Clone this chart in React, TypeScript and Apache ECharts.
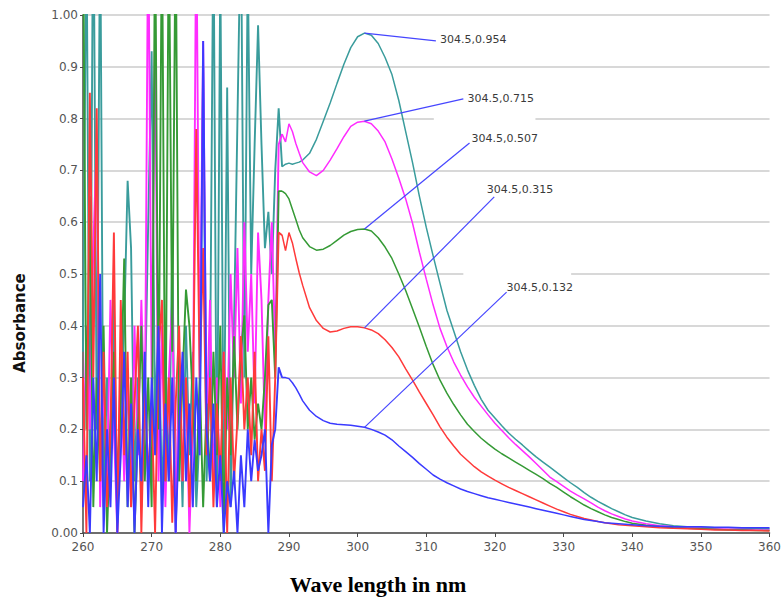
import React, { useEffect, useRef } from "react";
import * as echarts from "echarts";

// Noisy region: 260 .. 288.5 nm, 0.5 nm step
const noiseWavelengths: number[] = [];
for (let w = 260; w <= 288.5; w += 0.5) noiseWavelengths.push(w);

const tealNoise = [
  0.35, 1.2, 0.1, 1.3, 0.2, 1.2, 0.05, 0.3, 0.1, 0.45,
  0.02, 0.25, 0.4, 0.68, 0.55, 0.1, 0.3, 0.05, 0.25, 0.6,
  0.93, 0.2, 0.45, 0.05, 0.35, 0.1, 0.55, 0.0, 0.3, 0.05,
  0.4, 0.15, 0.35, 0.05, 0.2, 0.9, 0.1, 0.3, 1.2, 0.05,
  1.1, 0.1, 0.86, 0.05, 0.4, 0.8, 1.2, 0.3, 1.1, 0.5,
  0.75, 0.98, 0.75, 0.55, 0.62, 0.5, 0.7, 0.82,
];
const magentaNoise = [
  0.1, 0.4, 0.2, 0.55, 0.76, 0.05, 0.3, 0.1, 0.45, 0.2,
  0.0, 0.35, 0.1, 0.3, 0.05, 0.4, 0.15, 0.45, 0.2, 1.2,
  0.3, 0.98, 0.1, 0.4, 0.05, 0.3, 0.45, 0.0, 0.35, 0.1,
  0.3, 0.0, 0.2, 1.2, 0.3, 0.95, 0.2, 0.45, 0.1, 0.3,
  0.05, 0.35, 0.2, 0.5, 0.3, 0.55, 0.25, 0.6, 0.35, 0.5,
  0.25, 0.58, 0.45, 0.2, 0.45, 0.6, 0.35, 0.75,
];
const greenNoise = [
  1.2, 0.2, 0.65, 0.05, 0.3, 0.1, 0.4, 0.0, 0.2, 0.35,
  0.1, 0.25, 0.53, 0.05, 0.3, 0.0, 0.2, 0.4, 0.1, 0.3,
  0.05, 1.2, 0.2, 1.2, 0.1, 1.2, 0.35, 1.2, 0.1, 0.3,
  0.47, 0.4, 0.25, 0.1, 0.3, 0.05, 0.25, 0.1, 0.35, 0.15,
  0.4, 0.0, 0.3, 0.15, 0.38, 0.2, 0.35, 0.42, 0.2, 0.3,
  0.18, 0.25, 0.2, 0.3, 0.44, 0.45, 0.3, 0.66,
];
const redNoise = [
  0.3, 0.0, 0.85, 0.3, 0.82, 0.1, 0.35, 0.05, 0.2, 0.58,
  0.0, 0.45, 0.15, 0.35, 0.05, 0.25, 0.4, 0.0, 0.3, 0.1,
  0.25, 0.0, 0.35, 0.45, 0.1, 0.3, 0.02, 0.25, 0.4, 0.1,
  0.3, 0.05, 0.25, 0.78, 0.3, 0.55, 0.15, 0.3, 0.05, 0.25,
  0.1, 0.35, 0.0, 0.3, 0.1, 0.22, 0.38, 0.2, 0.3, 0.15,
  0.35, 0.1, 0.2, 0.12, 0.38, 0.1, 0.3, 0.58,
];
const blueNoise = [
  0.05, 0.15, 0.0, 0.3, 0.1, 0.5, 0.0, 0.2, 0.05, 0.3,
  0.0, 0.15, 0.35, 0.05, 0.25, 0.0, 0.2, 0.1, 0.35, 0.05,
  0.3, 0.15, 0.4, 0.0, 0.25, 0.1, 0.3, 0.0, 0.2, 0.35,
  0.1, 0.25, 0.05, 0.3, 0.15, 0.95, 0.2, 0.1, 0.25, 0.05,
  0.15, 0.0, 0.1, 0.05, 0.12, 0.0, 0.15, 0.05, 0.2, 0.1,
  0.18, 0.12, 0.15, 0.2, 0.0, 0.17, 0.2, 0.32,
];

// Smooth region wavelengths
const smoothWavelengths = [
  289, 289.5, 290, 290.5, 291, 291.5,
  292, 293, 294, 295, 296, 297, 298, 299, 300, 301, 302, 303, 304, 305,
  306, 307, 308, 309, 310, 311, 312, 313, 314, 315, 316, 317, 318, 319,
  320, 321, 322, 323, 324, 325, 326, 327, 328, 329, 330, 331, 332, 333,
  334, 335, 336, 337, 338, 339, 340,
  342, 344, 346, 348, 350, 352, 354, 356, 358, 360,
];

const tealSmooth = [
  0.707, 0.712, 0.714, 0.712, 0.714, 0.716,
  0.72, 0.733, 0.76, 0.795, 0.83, 0.868, 0.905, 0.937, 0.958, 0.965, 0.961, 0.945, 0.918, 0.885,
  0.835, 0.775, 0.715, 0.65, 0.59, 0.535, 0.482, 0.43, 0.39, 0.35, 0.315, 0.285, 0.258, 0.237,
  0.222, 0.207, 0.193, 0.181, 0.17, 0.158, 0.147, 0.137, 0.127, 0.117, 0.107, 0.097, 0.088, 0.078,
  0.069, 0.061, 0.054, 0.047, 0.041, 0.035, 0.03,
  0.023, 0.018, 0.014, 0.012, 0.011, 0.01, 0.01, 0.009, 0.009, 0.008,
];
const magentaSmooth = [
  0.77, 0.755, 0.79, 0.775, 0.752, 0.733,
  0.715, 0.697, 0.69, 0.7, 0.72, 0.742, 0.765, 0.785, 0.793, 0.795, 0.79, 0.776, 0.755, 0.722,
  0.685, 0.645, 0.598, 0.542, 0.49, 0.44, 0.395, 0.36, 0.33, 0.305, 0.282, 0.262, 0.245, 0.228,
  0.212, 0.198, 0.184, 0.171, 0.159, 0.147, 0.134, 0.121, 0.108, 0.099, 0.09, 0.081, 0.073, 0.066,
  0.058, 0.05, 0.043, 0.037, 0.032, 0.027, 0.023,
  0.018, 0.014, 0.012, 0.01, 0.009, 0.008, 0.007, 0.007, 0.006, 0.006,
];
const greenSmooth = [
  0.66, 0.655, 0.645, 0.625, 0.605, 0.585,
  0.57, 0.553, 0.546, 0.548, 0.555, 0.565, 0.575, 0.582, 0.586, 0.587, 0.583, 0.57, 0.552, 0.53,
  0.5, 0.468, 0.433, 0.397, 0.36, 0.325, 0.295, 0.27, 0.248, 0.228, 0.21, 0.196, 0.183, 0.172,
  0.162, 0.153, 0.145, 0.137, 0.129, 0.121, 0.113, 0.105, 0.096, 0.088, 0.079, 0.07, 0.062, 0.054,
  0.047, 0.041, 0.035, 0.03, 0.026, 0.022, 0.019,
  0.015, 0.012, 0.01, 0.009, 0.008, 0.007, 0.006, 0.006, 0.005, 0.005,
];
const redSmooth = [
  0.575, 0.545, 0.58, 0.56, 0.53, 0.502,
  0.478, 0.435, 0.41, 0.395, 0.388, 0.39, 0.395, 0.398, 0.398, 0.396, 0.392, 0.385, 0.373, 0.358,
  0.34, 0.317, 0.295, 0.272, 0.25, 0.228, 0.205, 0.185, 0.168, 0.152, 0.14, 0.128, 0.118, 0.11,
  0.102, 0.095, 0.088, 0.082, 0.076, 0.07, 0.064, 0.058, 0.052, 0.046, 0.041, 0.036, 0.032, 0.028,
  0.025, 0.022, 0.02, 0.018, 0.016, 0.015, 0.014,
  0.012, 0.01, 0.009, 0.008, 0.007, 0.006, 0.006, 0.005, 0.005, 0.004,
];
const blueSmooth = [
  0.3, 0.3, 0.298, 0.29, 0.28, 0.268,
  0.255, 0.237, 0.225, 0.217, 0.212, 0.21, 0.209, 0.208, 0.206, 0.204, 0.2, 0.195, 0.189, 0.18,
  0.168, 0.157, 0.146, 0.134, 0.123, 0.112, 0.104, 0.097, 0.091, 0.085, 0.08, 0.076, 0.072, 0.068,
  0.065, 0.062, 0.059, 0.056, 0.053, 0.05, 0.047, 0.044, 0.041, 0.038, 0.035, 0.032, 0.029, 0.026,
  0.024, 0.022, 0.02, 0.019, 0.018, 0.017, 0.016,
  0.014, 0.013, 0.012, 0.012, 0.012, 0.011, 0.011, 0.01, 0.01, 0.01,
];

const yTickLabels = ["0.00", "0.1", "0.2", "0.3", "0.4", "0.5", "0.6", "0.7", "0.8", "0.9", "1.00"];

const seriesNames = ["S1", "S2", "S3", "S4", "S5"];
const seriesColors = ["#3a9c9c", "#ff2cff", "#359a35", "#ff3a3a", "#3a3aff"];
const noiseSets = [tealNoise, magentaNoise, greenNoise, redNoise, blueNoise];
const smoothSets = [tealSmooth, magentaSmooth, greenSmooth, redSmooth, blueSmooth];

// Annotations
const peakWavelength = 301;
const peakLabels = ["304.5,0.954", "304.5,0.715", "304.5,0.507", "304.5,0.315", "304.5,0.132"];
const leaderEnds: [number, number][] = [
  [311.4, 0.95], [315.4, 0.838], [316.3, 0.753], [319.9, 0.649], [321.7, 0.465],
];
const labelAnchors: [number, number][] = [
  [312.0, 0.952], [316.0, 0.838], [316.6, 0.761], [318.8, 0.664], [321.7, 0.473],
];
const labelBoxes: [number, number, number, number][] = [
  [311.1, 0.795, 325.9, 0.805],
  [315.4, 0.495, 331.1, 0.505],
];

export default function App() {
  const ref = useRef<HTMLDivElement>(null);
  useEffect(() => {
    if (!ref.current) return;
    const chart = echarts.init(ref.current, undefined, { renderer: "svg" });
    const peakIdx = smoothWavelengths.indexOf(peakWavelength);

    const series: any[] = [];
    seriesNames.forEach((name, si) => {
      const noisy: [number, number][] = noiseWavelengths.map((w, i) => [w, noiseSets[si][i]]);
      noisy.push([smoothWavelengths[0], smoothSets[si][0]]);
      const smooth: [number, number][] = smoothWavelengths.map((w, i) => [w, smoothSets[si][i]]);
      series.push({
        name,
        type: "line",
        data: noisy,
        showSymbol: false,
        symbol: "none",
        lineStyle: { color: seriesColors[si], width: 1.9 },
        itemStyle: { color: seriesColors[si] },
        clip: true,
        z: 2,
      });
      series.push({
        name,
        type: "line",
        data: smooth,
        showSymbol: false,
        symbol: "none",
        lineStyle: { color: seriesColors[si], width: 1.5 },
        itemStyle: { color: seriesColors[si] },
        clip: true,
        z: 2,
      });
    });

    const last = series[series.length - 1];
    last.markLine = {
      silent: true,
      symbol: ["none", "none"],
      lineStyle: { color: "#4646ff", width: 1.2, type: "solid" },
      label: { show: false },
      emphasis: { disabled: true },
      data: smoothSets.map((s, i) => [
        { coord: [peakWavelength, s[peakIdx]] },
        { coord: leaderEnds[i] },
      ]),
    };
    last.markPoint = {
      silent: true,
      symbol: "circle",
      symbolSize: 0,
      label: {
        show: true,
        position: "right",
        distance: 0,
        color: "#3a3a3a",
        fontSize: 11,
        fontFamily: "DejaVu Sans",
        formatter: (p: any) => p.name,
      },
      data: peakLabels.map((t, i) => ({ name: t, coord: labelAnchors[i] })),
    };
    last.markArea = {
      silent: true,
      itemStyle: { color: "#ffffff" },
      data: labelBoxes.map((b) => [{ coord: [b[0], b[1]] }, { coord: [b[2], b[3]] }]),
    };

    chart.setOption({
      animation: false,
      backgroundColor: "#ffffff",
      grid: { left: 83, right: 12, top: 15, bottom: 67, containLabel: false },
      xAxis: {
        type: "value",
        min: 260,
        max: 360,
        interval: 10,
        axisLine: { show: true, lineStyle: { color: "#4a4a4a", width: 1.5 } },
        axisTick: { show: true, length: 4, lineStyle: { color: "#4a4a4a" } },
        axisLabel: { color: "#555", fontSize: 12, fontFamily: "DejaVu Sans", margin: 8 },
        splitLine: { show: false },
      },
      yAxis: {
        type: "value",
        min: 0,
        max: 1,
        interval: 0.1,
        axisLine: { show: true, lineStyle: { color: "#4a4a4a", width: 1.5 } },
        axisTick: { show: true, length: 3, lineStyle: { color: "#4a4a4a" } },
        axisLabel: {
          color: "#555",
          fontSize: 12,
          fontFamily: "DejaVu Sans",
          margin: 5,
          formatter: (v: number) => yTickLabels[Math.round(v * 10)] ?? "",
        },
        splitLine: { show: true, lineStyle: { color: "#d8d8d8", width: 2 } },
      },
      series,
      graphic: [
        {
          type: "text",
          x: 20,
          y: 323,
          rotation: Math.PI / 2,
          style: {
            text: "Absorbance",
            font: 'bold 15px "DejaVu Sans"',
            fill: "#111",
            align: "center",
            verticalAlign: "middle",
          },
        },
        {
          type: "text",
          x: 378,
          y: 584,
          style: {
            text: "Wave length in nm",
            font: 'bold 22px "Liberation Serif"',
            fill: "#000",
            align: "center",
            verticalAlign: "middle",
          },
        },
      ],
    });
    return () => chart.dispose();
  }, []);
  return (
    <div
      ref={ref}
      style={{ position: "absolute", left: 0, top: 0, width: 784, height: 600 }}
    />
  );
}
